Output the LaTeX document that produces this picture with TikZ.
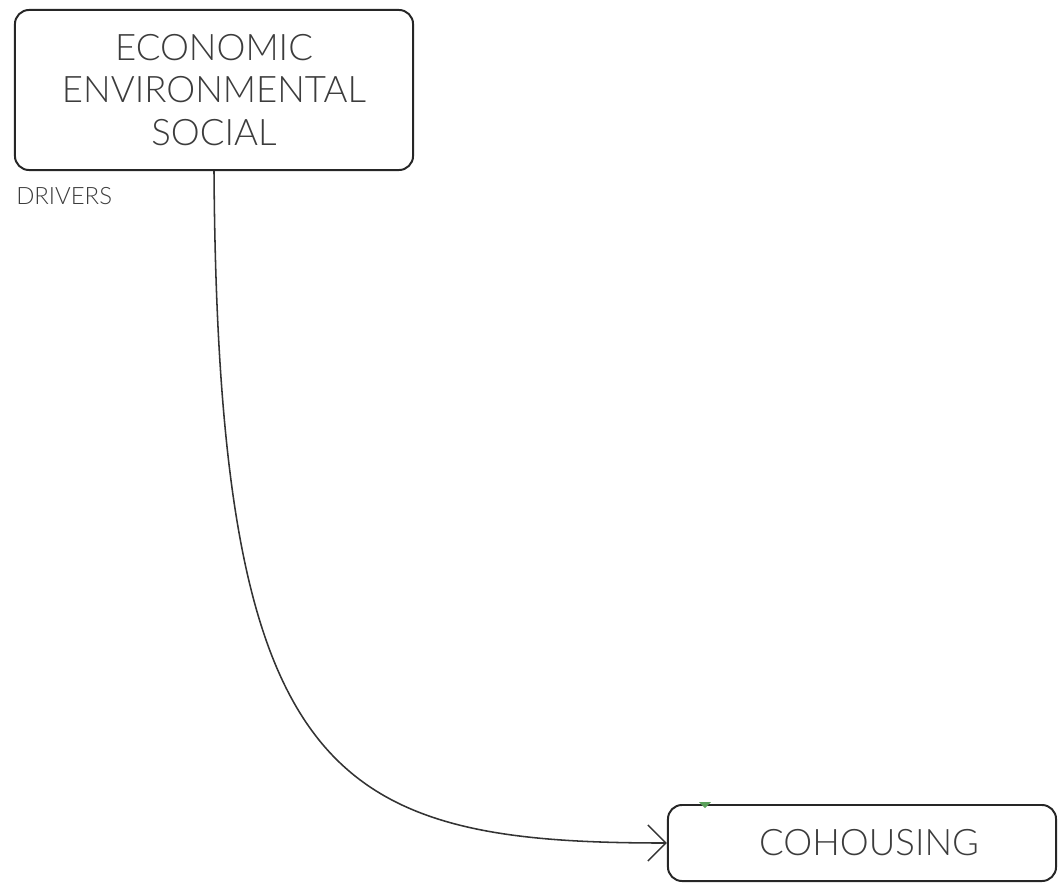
\documentclass[tikz,border=0pt]{standalone}
\usepackage{fontspec}
\setmainfont{Lato}[UprightFont=* Light]
\usepackage{tikz}
\usetikzlibrary{arrows.meta}
\definecolor{inkgray}{RGB}{60,60,60}
\definecolor{markgreen}{RGB}{90,160,90}
\tikzset{
	boxstyle/.style={rectangle,rounded corners=10pt,draw=black!85,line width=1.4pt,fill=white,text=inkgray,align=center},
	labelstyle/.style={text=inkgray,inner sep=0pt,anchor=west},
	linkstyle/.style={draw=black!80,line width=1.1pt,-{Straight Barb[length=0.45cm,width=0.9cm,line width=1.1pt]}}
}
\begin{document}
\begin{tikzpicture}[x=0.025cm,y=-0.025cm]
	\useasboundingbox (0,0) rectangle (1059,883);
	\node[boxstyle,minimum width=9.95cm,minimum height=4cm,font=\fontsize{26}{30}\selectfont] (pillars) at (214,90) {ECONOMIC\\ENVIRONMENTAL\\SOCIAL};
	\node[labelstyle,font=\fontsize{17}{20}\selectfont] (drivers) at (16,196) {DRIVERS};
	\node[boxstyle,minimum width=9.7cm,minimum height=1.9cm,font=\fontsize{26}{30}\selectfont] (cohousing) at (862,843) {\hspace{0.35cm}COHOUSING};
	\fill[markgreen] (699,802) -- (711,802) -- (705,808) -- cycle;
	\draw[linkstyle] (pillars.south) .. controls (218,780) and (330,843) .. (cohousing.west);
\end{tikzpicture}
\end{document}
